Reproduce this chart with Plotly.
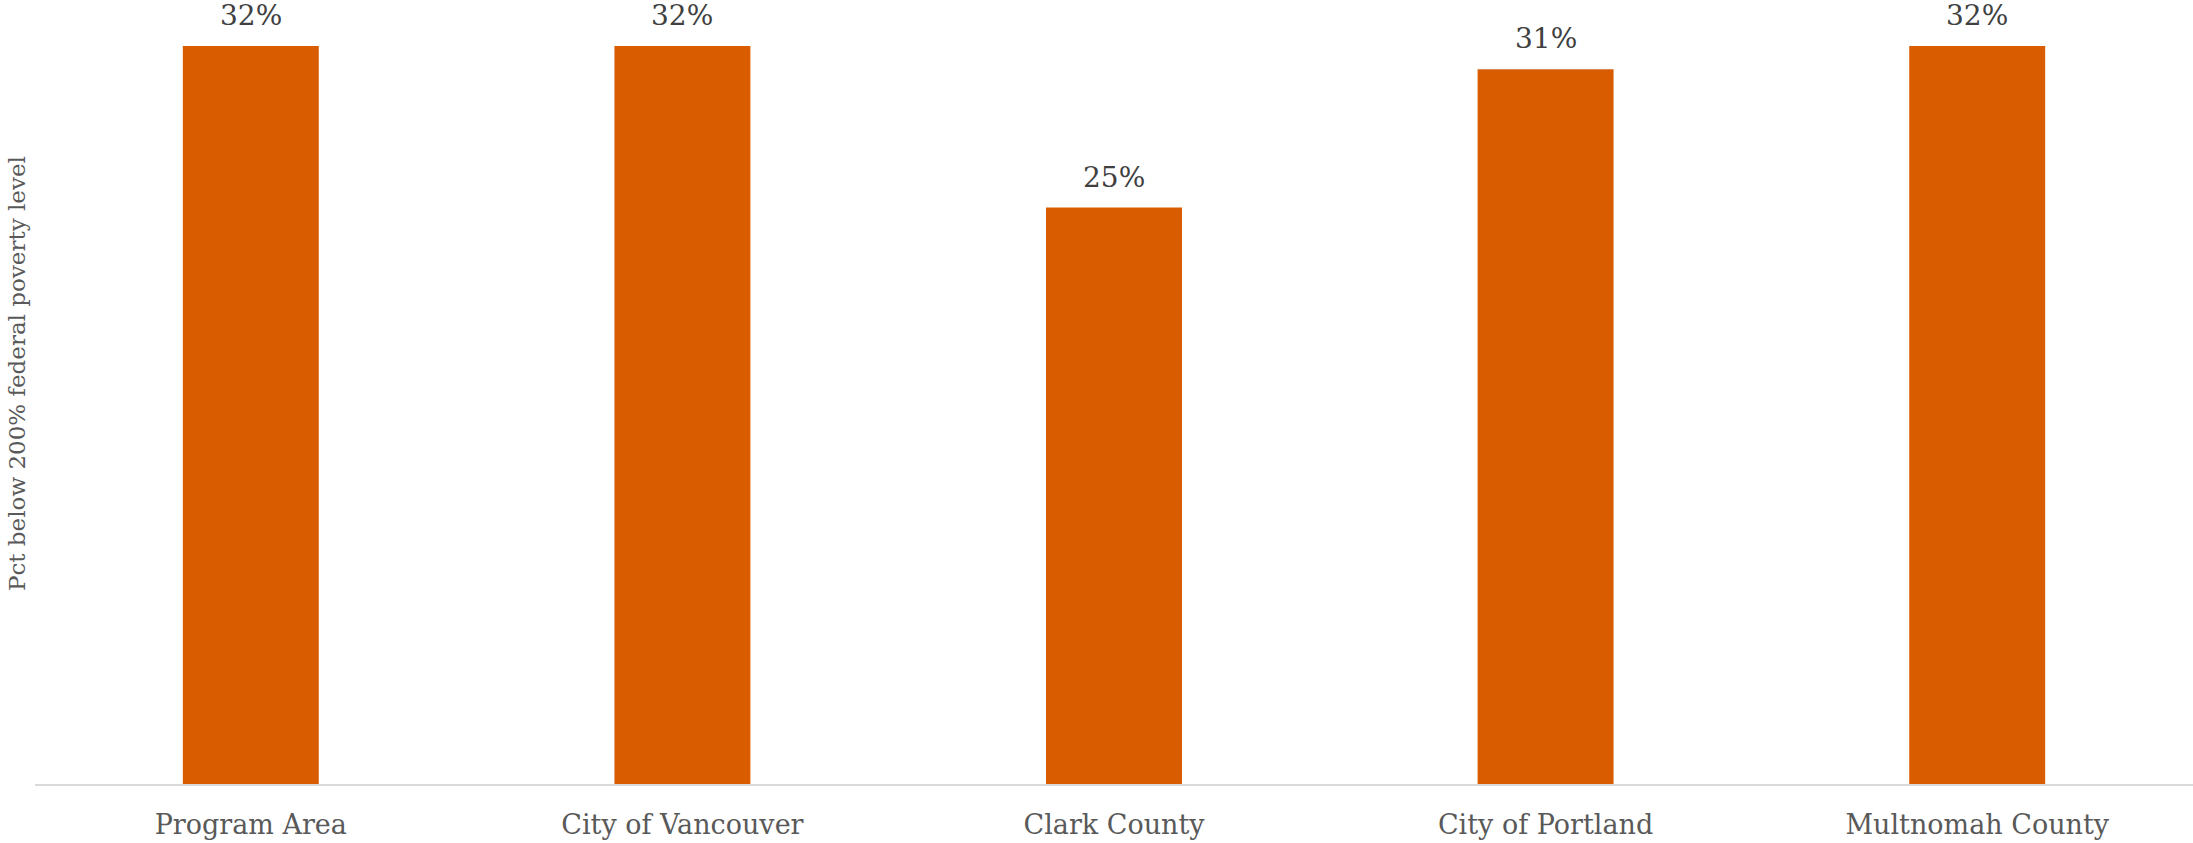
import plotly.graph_objects as go

categories = ["Program Area", "City of Vancouver", "Clark County", "City of Portland", "Multnomah County"]
values = [0.32, 0.32, 0.25, 0.31, 0.32]
labels = ["32%", "32%", "25%", "31%", "32%"]
y_title = "Pct below 200% federal poverty level"

FONT = "DejaVu Serif"

fig = go.Figure()
fig.add_trace(go.Bar(
    x=categories, y=values,
    marker=dict(color="#D95C00", line=dict(width=0)),
    hoverinfo="skip",
))

for c, v, t in zip(categories, values, labels):
    fig.add_annotation(x=c, y=v, text=t, showarrow=False, yanchor="bottom", yshift=12,
                       font=dict(family=FONT, size=28, color="#404040"))

fig.add_annotation(x=-0.0083, y=0.523, xref="paper", yref="paper", text=y_title,
                   textangle=-90, showarrow=False, xanchor="center", yanchor="middle",
                   font=dict(family=FONT, size=23, color="#595959"))

fig.update_layout(
    width=2193, height=843,
    margin=dict(l=35, r=0, t=0, b=59),
    paper_bgcolor="white", plot_bgcolor="white",
    bargap=0.685,
    showlegend=False,
    xaxis=dict(
        showgrid=False, showline=True, linecolor="#D9D9D9", linewidth=2,
        ticks="outside", ticklen=16, tickcolor="rgba(0,0,0,0)",
        tickfont=dict(family=FONT, size=27, color="#595959"),
        automargin=False,
    ),
    yaxis=dict(
        range=[0, 0.34], showgrid=False, zeroline=False, showticklabels=False,
        showline=False, automargin=False,
    ),
)

fig.write_html("out.html", config={"displayModeBar": False},
               post_script="document.body.style.margin='0';document.body.style.overflow='hidden';")
